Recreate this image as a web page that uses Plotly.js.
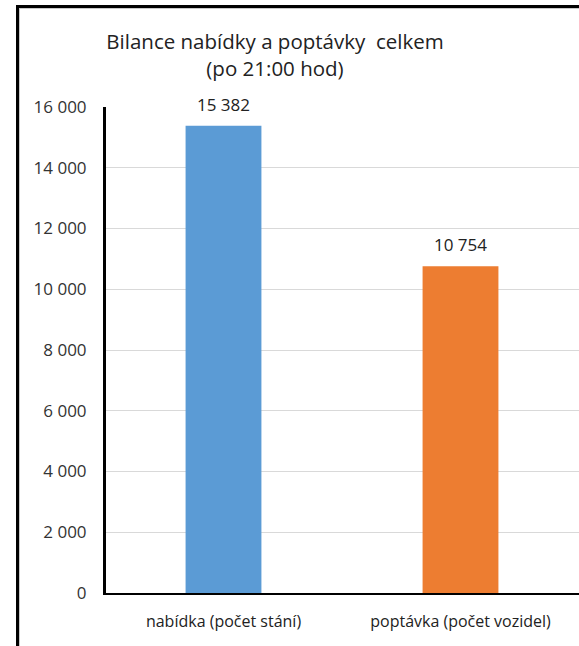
<!DOCTYPE html>
<html>
<head>
<meta charset="utf-8">
<script src="https://cdn.plot.ly/plotly-3.0.1.min.js"></script>
<style>
  html, body { margin: 0; padding: 0; background: #fff; }
  #wrap { position: relative; width: 579px; height: 646px; overflow: hidden; }
  #chart { position: absolute; left: 0; top: 0; width: 579px; height: 646px; }
  #frame { position: absolute; left: 16px; top: 5px; width: 600px; height: 700px;
           border-left: 3px solid #000; border-top: 3px solid #000; pointer-events: none; }
  #frame2 { position: absolute; left: 19px; top: 8px; width: 600px; height: 700px;
           border-left: 1px solid #c8c8c8; border-top: 1px solid #c8c8c8; pointer-events: none; }
</style>
</head>
<body>
<div id="wrap">
  <div id="chart"></div>
  <div id="frame"></div>
  <div id="frame2"></div>
</div>
<script>
const categories = ["nabídka (počet stání)", "poptávka (počet vozidel)"];
const values = [15382, 10754];
const valueLabels = ["15 382", "10 754"];
const barColors = ["#5b9bd5", "#ed7d31"];
const yTickValues = [0, 2000, 4000, 6000, 8000, 10000, 12000, 14000, 16000];
const yTickLabels = ["0", "2 000", "4 000", "6 000", "8 000", "10 000", "12 000", "14 000", "16 000"];

const font = "Open Sans, Noto Sans, sans-serif";

const trace = {
  type: "bar",
  x: categories,
  y: values,
  width: 0.32,
  marker: { color: barColors },
  hoverinfo: "none"
};

const annotations = categories.map((c, i) => ({
  x: c, y: values[i], xref: "x", yref: "y",
  text: valueLabels[i], showarrow: false,
  yanchor: "bottom", yshift: 8,
  font: { family: font, size: 17, color: "#222" }
}));

const layout = {
  width: 579, height: 646,
  margin: { l: 105, r: 0, t: 107, b: 53 },
  paper_bgcolor: "#fff", plot_bgcolor: "#fff",
  showlegend: false,
  title: {
    text: "Bilance nabídky a poptávky  celkem<br>(po 21:00 hod)",
    x: 275 / 579, xanchor: "center", xref: "container",
    y: 1 - 49 / 646, yanchor: "middle", yref: "container",
    font: { family: font, size: 20.5, color: "#222" }
  },
  xaxis: {
    range: [-0.5, 1.5],
    showgrid: false, zeroline: false,
    showline: true, linecolor: "#000", linewidth: 2,
    ticks: "", ticklabelstandoff: 13,
    tickfont: { family: font, size: 16, color: "#222" }
  },
  yaxis: {
    range: [0, 16000],
    tickvals: yTickValues, ticktext: yTickLabels,
    showgrid: true, gridcolor: "#d9d9d9", gridwidth: 1,
    zeroline: false,
    showline: true, linecolor: "#000", linewidth: 2,
    ticks: "", ticklabelstandoff: 13,
    tickfont: { family: font, size: 17, color: "#333" }
  },
  shapes: [{
    type: "line", xref: "paper", yref: "paper",
    x0: 0, x1: 0, y0: 0, y1: 1,
    line: { color: "#000", width: 2 }
  }],
  annotations: annotations
};

Plotly.newPlot("chart", [trace], layout, { staticPlot: true, displayModeBar: false });
</script>
</body>
</html>
